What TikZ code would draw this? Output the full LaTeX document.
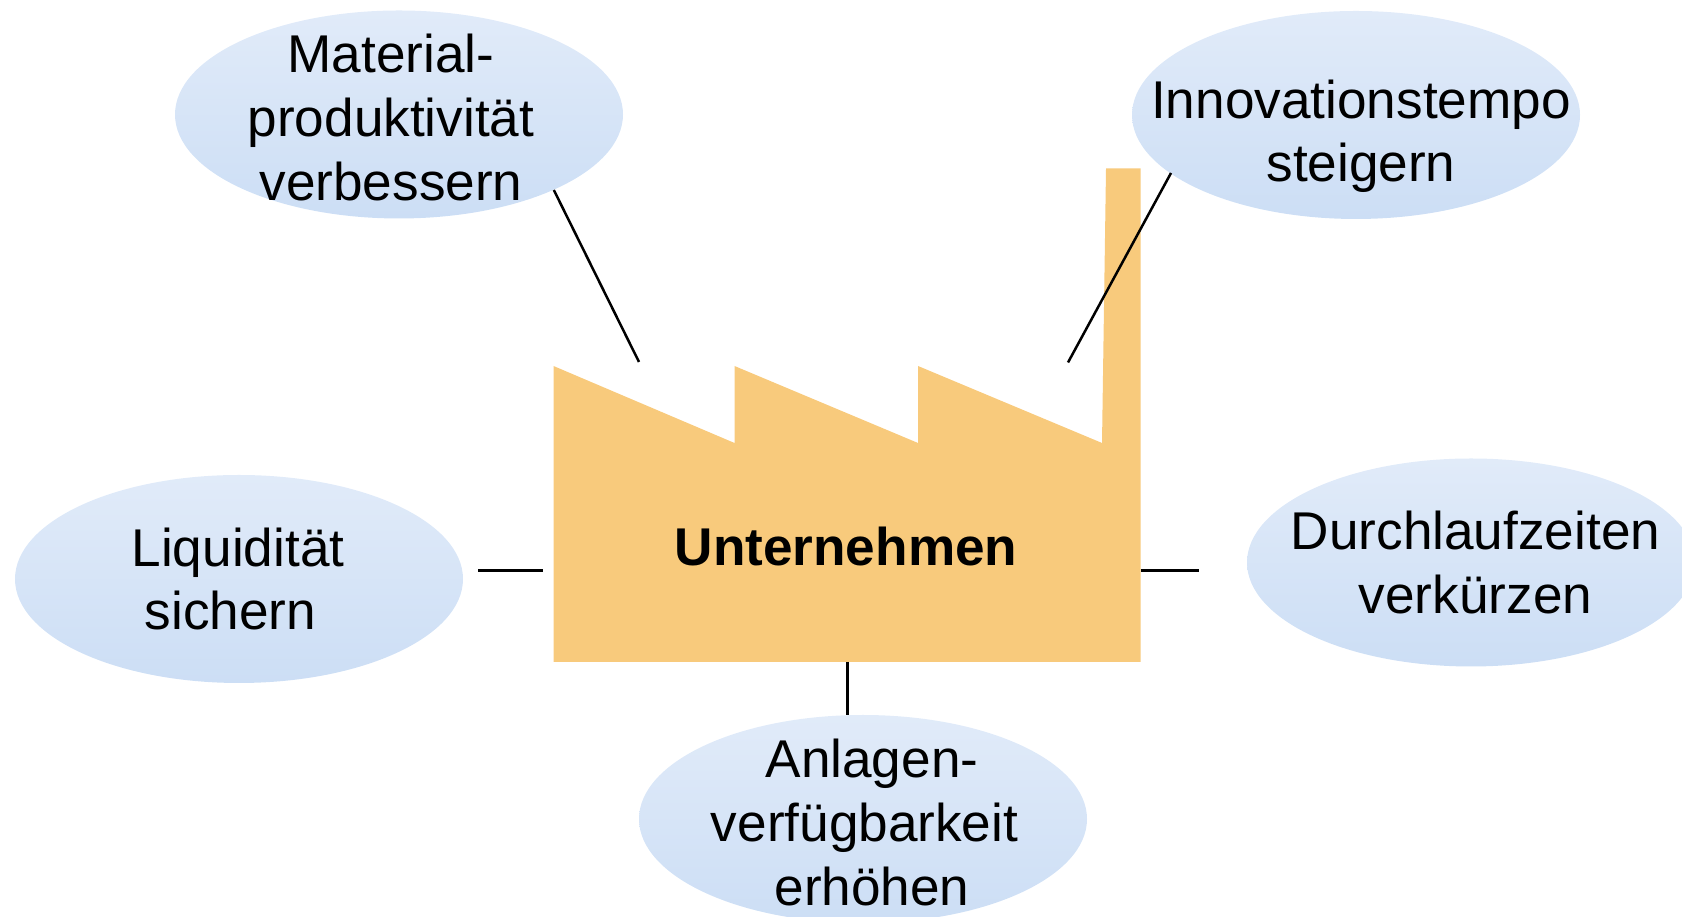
\documentclass[tikz,border=0pt]{standalone}
\usepackage{fontspec}
\setmainfont{Liberation Sans}
\usetikzlibrary{shapes.geometric}

\definecolor{factory}{HTML}{F8CA7C}
\definecolor{bubbletop}{HTML}{E1EBF9}
\definecolor{bubblebottom}{HTML}{CCDEF5}

\tikzset{
  bubble/.style={ellipse, draw=none, inner sep=0, minimum width=8.96cm, minimum height=4.16cm, top color=bubbletop, bottom color=bubblebottom},
  goal/.style={align=center, anchor=base, inner sep=0, font=\fontsize{30.25}{36.4}\selectfont},
  link/.style={line width=0.05cm}
}

\begin{document}
\begin{tikzpicture}

\useasboundingbox (0, 0) rectangle (33.64, 18.34);

\fill[factory] (11.07, 5.10) -- (11.07, 11.02) -- (14.69, 9.48) -- (14.69, 11.02) -- (18.36, 9.48) -- (18.36, 11.02) -- (22.04, 9.48) -- (22.12, 14.97) -- (22.81, 14.97) -- (22.81, 5.10) -- cycle;

\node[bubble] (Material) at (7.98, 16.05) {};
\node[bubble] (Innovation) at (27.12, 16.04) {};
\node[bubble] (Liquiditaet) at (4.78, 6.76) {};
\node[bubble] (Durchlauf) at (29.42, 7.09) {};
\node[bubble] (Anlagen) at (17.26, 1.96) {};

\node[goal] (MaterialText) at (7.82, 14.33) {Material-\\produktivität\\verbessern};
\node[goal] (InnovationText) at (27.22, 14.70) {Innovationstempo\\steigern};
\node[goal] (LiquiditaetText) at (4.76, 5.74) {Liquidität\\sichern\rule{0.3cm}{0pt}};
\node[goal] (DurchlaufText) at (29.51, 6.07) {Durchlaufzeiten\\verkürzen};
\node[goal] (AnlagenText) at (17.44, 0.23) {Anlagen-\\verfügbarkeit\rule{0.3cm}{0pt}\\erhöhen};
\node[goal, font=\fontsize{30.25}{36.4}\selectfont\bfseries] (Unternehmen) at (16.92, 7.02) {Unternehmen};

\coordinate (MaterialEnd) at (12.78, 11.10);
\coordinate (InnovationStart) at (23.42, 14.88);
\coordinate (InnovationEnd) at (21.36, 11.09);
\coordinate (LiquiditaetA) at (9.56, 6.93);
\coordinate (LiquiditaetB) at (10.86, 6.93);
\coordinate (DurchlaufA) at (22.81, 6.93);
\coordinate (DurchlaufB) at (23.98, 6.93);
\coordinate (AnlagenEnd) at (16.95, 5.10);

\draw[link] (Material.-26) -- (MaterialEnd);
\draw[link] (InnovationStart) -- (InnovationEnd);
\draw[link] (LiquiditaetA) -- (LiquiditaetB);
\draw[link] (DurchlaufA) -- (DurchlaufB);
\draw[link] (AnlagenEnd) -- (AnlagenEnd |- Anlagen.north);

\end{tikzpicture}
\end{document}
